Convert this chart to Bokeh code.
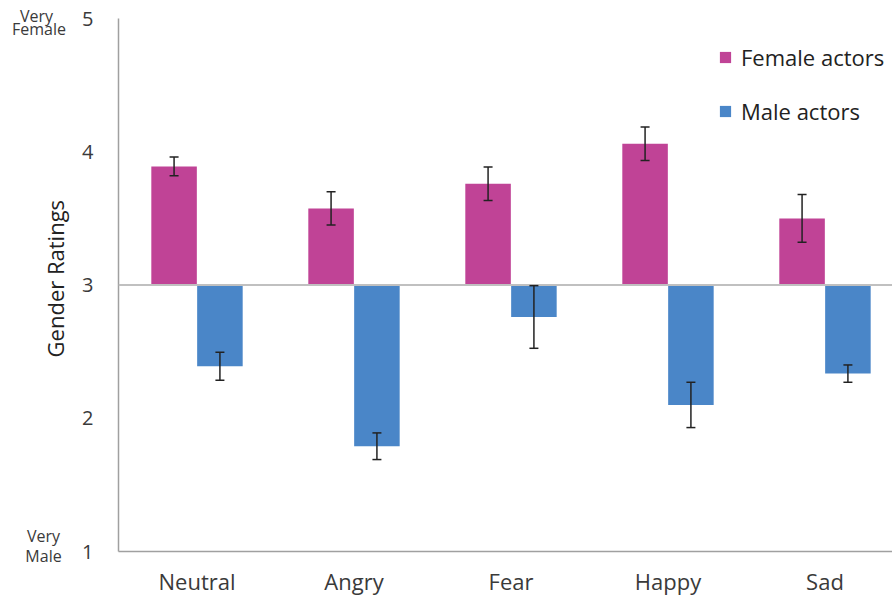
from math import pi
from bokeh.plotting import figure
from bokeh.layouts import row
from bokeh.models import (ColumnDataSource, Range1d, FixedTicker, Whisker, TeeHead,
                          Span, Legend, LegendItem)
from bokeh.core.properties import value
from bokeh.embed import file_html
from bokeh.resources import INLINE

categories = ["Neutral", "Angry", "Fear", "Happy", "Sad"]
female_means = [3.89, 3.575, 3.76, 4.06, 3.50]
female_err = [0.07, 0.125, 0.125, 0.125, 0.18]
male_means = [2.39, 1.79, 2.76, 2.10, 2.335]
male_err = [0.105, 0.10, 0.235, 0.17, 0.065]
y_ticks = [1, 2, 3, 4, 5]
baseline = 3
series_names = ["Female actors", "Male actors"]
y_title = "Gender Ratings"
end_words = ["Very", "Female", "Very", "Male"]

FEMALE_COLOR = "#C04396"
MALE_COLOR = "#4A86C8"
FONT = "Open Sans"
TEXT_COLOR = "#3A3A3A"
offset = 0.146
bar_w = 0.29

H = 598
TOP, BOTTOM = 18, 45
Y0, Y1 = 1, 5
px_per_unit = (H - TOP - BOTTOM) / (Y1 - Y0)

idx = list(range(len(categories)))
fsrc = ColumnDataSource(dict(
    x=[i - offset for i in idx], top=female_means, bottom=[baseline] * len(idx),
    upper=[m + e for m, e in zip(female_means, female_err)],
    lower=[m - e for m, e in zip(female_means, female_err)]))
msrc = ColumnDataSource(dict(
    x=[i + offset for i in idx], top=male_means, bottom=[baseline] * len(idx),
    upper=[m + e for m, e in zip(male_means, male_err)],
    lower=[m - e for m, e in zip(male_means, male_err)]))

# ---- side panel for the y-axis title and scale end descriptors
LW = 70
side = figure(width=LW, height=H, output_backend="svg", toolbar_location=None,
              x_range=Range1d(0, LW),
              y_range=Range1d(Y0 - BOTTOM / px_per_unit, Y1 + TOP / px_per_unit),
              x_axis_type=None, y_axis_type=None,
              min_border_left=0, min_border_right=0, min_border_top=0, min_border_bottom=0)
side.frame_align = False
side.outline_line_color = None
side.xgrid.grid_line_color = None
side.ygrid.grid_line_color = None
side.text(x=[36, 38.5, 43, 43], y=[5.015, 4.925, 1.13, 0.985], text=end_words,
          text_font=value(FONT), text_font_size="16px", text_color=TEXT_COLOR,
          text_align="center", text_baseline="middle")
side.text(x=[54], y=[3.055], text=[y_title], angle=pi / 2,
          text_font=value(FONT), text_font_size="22px", text_color="#222222",
          text_align="center", text_baseline="middle")

# ---- main chart
p = figure(width=892 - LW, height=H, output_backend="svg", toolbar_location=None,
           x_range=Range1d(-0.5, 4.43), y_range=Range1d(Y0, Y1),
           min_border_left=118 - LW, min_border_right=0,
           min_border_top=TOP, min_border_bottom=BOTTOM)
p.frame_align = False
p.outline_line_color = None
p.xgrid.grid_line_color = None
p.ygrid.grid_line_color = None

fr = p.vbar(x="x", top="top", bottom="bottom", width=bar_w, source=fsrc,
            fill_color=FEMALE_COLOR, line_color=None)
mr = p.vbar(x="x", top="top", bottom="bottom", width=bar_w, source=msrc,
            fill_color=MALE_COLOR, line_color=None)

p.add_layout(Span(location=baseline, dimension="width", line_color="#C0C0C0", line_width=2))

for src in (fsrc, msrc):
    w = Whisker(base="x", upper="upper", lower="lower", source=src, level="overlay",
                line_color="#222222", line_width=1.5,
                upper_head=TeeHead(size=9, line_color="#222222", line_width=1.5),
                lower_head=TeeHead(size=9, line_color="#222222", line_width=1.5))
    p.add_layout(w)

p.xaxis.ticker = FixedTicker(ticks=idx)
p.xaxis.major_label_overrides = {i: c for i, c in zip(idx, categories)}
p.yaxis.ticker = FixedTicker(ticks=y_ticks)
for ax in (p.xaxis, p.yaxis):
    ax.axis_line_color = "#A0A0A0"
    ax.axis_line_width = 1.5
    ax.major_tick_line_color = None
    ax.minor_tick_line_color = None
    ax.major_tick_out = 0
    ax.major_tick_in = 0
    ax.major_label_text_font = FONT
    ax.major_label_text_color = TEXT_COLOR
p.xaxis.major_label_text_font_size = "22px"
p.yaxis.major_label_text_font_size = "20px"
p.xaxis.major_label_standoff = 14
p.yaxis.major_label_standoff = 25

legend = Legend(items=[LegendItem(label=series_names[0], renderers=[fr]),
                       LegendItem(label=series_names[1], renderers=[mr])],
                location=(600, 425), orientation="vertical",
                glyph_width=14, glyph_height=14, label_height=20,
                label_text_font=FONT, label_text_font_size="22px", label_text_color="#222222",
                label_standoff=9, spacing=24, padding=0, margin=0,
                border_line_color=None, background_fill_alpha=0)
p.add_layout(legend)

layout = row(side, p, spacing=0)
open("out.html", "w").write(file_html(layout, INLINE))
